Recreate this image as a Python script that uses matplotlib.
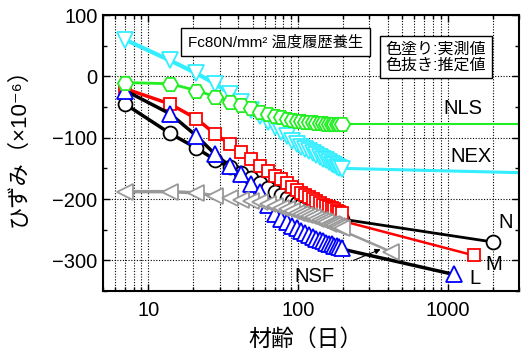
import matplotlib
matplotlib.use("Agg")
import matplotlib.pyplot as plt
from matplotlib.ticker import LogLocator, NullFormatter, FuncFormatter, MultipleLocator

plt.rcParams['font.family'] = ['Liberation Sans', 'Noto Sans CJK JP', 'DejaVu Sans']

# ---- data ----
days = [7, 14, 21, 28, 35, 42, 49, 56, 63, 70, 77, 84, 91, 98, 105, 112, 119,
        126, 133, 140, 147, 154, 161, 168, 175, 182, 189, 196]

nls = [-10, -12, -23, -33, -41, -47, -52, -58, -62, -65, -67, -69, -71, -72,
       -73, -74, -74.5, -75, -75.5, -76, -76.5, -77, -77, -77.5, -77.5, -78, -78, -78]
nex = [60, 26, 5, -12, -28, -42, -54, -64, -74, -83, -90, -98, -105, -110,
       -115, -119, -122, -125, -128, -131, -134, -137, -140, -143, -145, -147, -149, -151]
n_vals = [-45, -93, -117, -136, -148, -158, -166, -174, -182, -188, -194, -199,
          -203, -207, -210, -213, -216, -218, -220, -222, -224, -226, -227, -228,
          -229, -230, -231, -232]
m_vals = [-20, -45, -69, -94, -110, -124, -135, -146, -154, -162, -168, -174,
          -180, -186, -190, -194, -197, -200, -203, -206, -209, -211, -213, -215,
          -217, -219, -221, -223]
l_vals = [-23, -61, -97, -127, -146, -160, -175, -188, -210, -225, -232, -238,
          -244, -248, -252, -256, -259, -262, -265, -267, -269, -271, -273, -274,
          -276, -277, -278, -280]
nsf = [-188, -188, -190, -195, -199, -201, -203, -205, -208, -211, -214, -217,
       -219, -222, -224, -226, -228, -230, -232, -234, -236, -238, -240, -241,
       -243, -244, -246, -247]

# estimated long-term lines (start, end)
n_ext_x, n_ext_y = [200, 2000], [-233, -270]
m_ext_x, m_ext_y = [200, 1500], [-236, -292]
l_ext_x, l_ext_y = [200, 1100], [-282, -323]
nsf_ext_x, nsf_ext_y = [200, 420], [-252, -286]
nls_ext_x, nls_ext_y = [200, 3000], [-78, -78]
nex_ext_x, nex_ext_y = [200, 3000], [-150, -157]

x_ticks = [10, 100, 1000]
y_ticks = [-300, -200, -100, 0, 100]

GREEN = '#22ee22'
CYAN = '#33eeff'
RED = '#ff0000'
BLUE = '#0000ff'
GRAY = '#999999'

fig = plt.figure(figsize=(5.21, 3.51), dpi=100)
ax = fig.add_axes([0.198, 0.171, 0.798, 0.786])
ax.set_xscale('log')
ax.set_xlim(5, 3000)
ax.set_ylim(-350, 100)

# extension lines
ax.plot(nls_ext_x, nls_ext_y, color=GREEN, lw=1.5, zorder=2)
ax.plot(nex_ext_x, nex_ext_y, color=CYAN, lw=2.2, zorder=2)
ax.plot(n_ext_x, n_ext_y, color='black', lw=2, zorder=2)
ax.plot(m_ext_x, m_ext_y, color=RED, lw=1.8, zorder=2)
ax.plot(l_ext_x, l_ext_y, color='black', lw=2.5, zorder=2)
ax.plot(nsf_ext_x, nsf_ext_y, color=GRAY, lw=1.8, zorder=2)

# end markers
ax.plot(n_ext_x[-1:], n_ext_y[-1:], 'o', ms=10, mfc='white', mec='black', mew=1.3, zorder=3)
ax.plot(m_ext_x[-1:], m_ext_y[-1:], 's', ms=9, mfc='white', mec=RED, mew=1.3, zorder=3)
ax.plot(l_ext_x[-1:], l_ext_y[-1:], '^', ms=11, mfc='white', mec=BLUE, mew=1.3, zorder=3)
ax.plot(nsf_ext_x[-1:], nsf_ext_y[-1:], '<', ms=11, mfc='white', mec=GRAY, mew=1.3, zorder=3)

# series
ax.plot(days, n_vals, '-o', color='black', lw=2.5, ms=10, mfc='white', mec='black', mew=1.3, zorder=3)
ax.plot(days, m_vals, '-s', color=RED, lw=2.5, ms=9, mfc='white', mec=RED, mew=1.3, zorder=3)
ax.plot(days, l_vals, '-^', color='black', lw=2.5, ms=11, mfc='white', mec=BLUE, mew=1.3, zorder=3)
ax.plot(days, nsf, '-<', color=GRAY, lw=2.5, ms=11, mfc='white', mec=GRAY, mew=1.3, zorder=3)
ax.plot(days, nex, '-v', color=CYAN, lw=3, ms=11, mfc='white', mec=CYAN, mew=1.3, zorder=3)
ax.plot(days, nls, '-H', color=GREEN, lw=2, ms=11, mfc='white', mec=GREEN, mew=1.3, zorder=3)

# axes styling
ax.xaxis.set_major_locator(LogLocator(base=10, numticks=10))
ax.xaxis.set_minor_locator(LogLocator(base=10, subs=range(2, 10), numticks=20))
ax.xaxis.set_minor_formatter(NullFormatter())
ax.xaxis.set_major_formatter(FuncFormatter(lambda v, p: f'{int(v)}'))
ax.set_xticks(x_ticks)
ax.set_yticks(y_ticks)
ax.yaxis.set_minor_locator(MultipleLocator(50))
ax.tick_params(which='both', direction='in', top=True, right=True, labelsize=14.5)
ax.tick_params(which='major', length=5, width=1)
ax.tick_params(which='minor', length=3, width=1)
ax.tick_params(axis='x', pad=7)
ax.tick_params(axis='y', pad=4)
ax.grid(True, which='major', axis='y', color='black', ls=(0, (1, 1.5)), lw=0.8)
ax.grid(True, which='both', axis='x', color='black', ls=(0, (1, 1.5)), lw=0.8)
for s in ax.spines.values():
    s.set_linewidth(1.5)

ax.set_ylabel('ひずみ（×10⁻⁶）', fontsize=16)
ax.yaxis.set_label_coords(-0.178, 0.54)
ax.set_xlabel('材齢（日）', fontsize=16.5)
ax.xaxis.set_label_coords(0.486, -0.135)

# boxes
ax.text(0.415, 0.902, 'Fc80N/mm² 温度履歴養生', transform=ax.transAxes, fontsize=11,
        ha='center', va='center',
        bbox=dict(boxstyle='square,pad=0.45', fc='white', ec='black', lw=1))
ax.text(0.8, 0.848, '色塗り:実測値\n色抜き:推定値', transform=ax.transAxes, fontsize=11.5,
        ha='center', va='center', linespacing=1.05,
        bbox=dict(boxstyle='square,pad=0.35', fc='white', ec='black', lw=1))

# labels
ax.text(1259, -52, 'NLS', fontsize=14.5, ha='center', va='center')
ax.text(1445, -130, 'NEX', fontsize=14.5, ha='center', va='center')
ax.text(2436, -239, 'N', fontsize=14.5, ha='center', va='center')
ax.text(2026, -307, 'M', fontsize=14.5, ha='center', va='center')
ax.text(1514, -330, 'L', fontsize=14.5, ha='center', va='center')
ax.annotate('NSF', xy=(357, -282), xytext=(130, -326), fontsize=14.5, ha='center', va='center',
            arrowprops=dict(arrowstyle='-|>', color='black', lw=0.8, mutation_scale=8,
                            shrinkA=12, shrinkB=0))

fig.savefig('out.png', dpi=100)
